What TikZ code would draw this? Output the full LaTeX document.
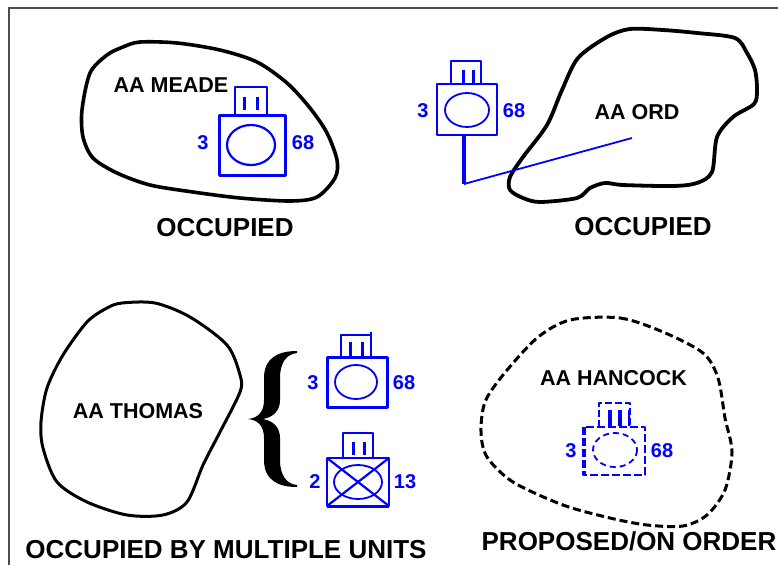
\documentclass[tikz,border=0pt]{standalone}
\usepackage{fontspec}
\setmainfont{Liberation Sans}
\begin{document}
\begin{tikzpicture}[x=1pt,y=-1pt,
  blob/.style={draw=black,line width=3.6pt,smooth cycle,tension=0.5,line join=round},
  unit/.style={draw=blue,line width=1.8pt,line join=round},
  unitthick/.style={draw=blue,line width=3pt,line join=round},
  bars/.style={draw=blue,line width=3pt},
  lab/.style={font=\fontsize{21.5}{21.5}\selectfont\bfseries,text=black,inner sep=0pt},
  captxt/.style={font=\fontsize{26}{26}\selectfont\bfseries,text=black,inner sep=0pt},
  num/.style={font=\fontsize{20}{20}\selectfont\bfseries,text=blue,inner sep=0pt}]
\useasboundingbox (0,0) rectangle (778,565);
\fill[white] (0,0) rectangle (778,565);
\draw[draw=black!70,line width=1.8pt] (9,565) -- (9,8) -- (778,8);
% Meade
\draw[blob] plot coordinates {(140,42)(177,43)(220,50)(257,62)(287,83)(310,108)(327,133)(337,160)(335,178)(317,197)(290,201)(240,198)(193,192)(150,185)(117,173)(93,158)(83,137)(82,110)(90,73)(107,55)(123,47)};
\node[lab] (meade) at (171,85) {AA MEADE};
\draw[unit] (235,115) -- (235,87) -- (267,87) -- (267,115);
\draw[unitthick] (219,115) rectangle (285,175);
\draw[bars] (244,97) -- (244,110) (257,97) -- (257,110);
\draw[unit,line width=2.2pt] (251,145) ellipse [x radius=24,y radius=20];
\node[num] (m3) at (203,143) {3};
\node[num] (m68) at (303,143) {68};
\node[captxt] (occ1) at (225,228) {OCCUPIED};
% Ord
\draw[blob,line width=3.8pt] plot coordinates {(510,177)(523,157)(547,125)(562,90)(578,58)(607,37)(630,29)(663,30)(697,33)(735,38)(747,53)(755,70)(757,90)(754,104)(733,117)(717,137)(712,172)(697,183)(673,186)(623,185)(605,183)(590,188)(577,198)(540,202)(523,198)(510,190)};
\node[lab] (ord) at (637,112) {AA ORD};
\draw[unit] (437,84) rectangle (497,135);
\draw[unit] (451,84) -- (451,61) -- (481,61) -- (481,84);
\draw[bars] (463,70) -- (463,84) (473,70) -- (473,84);
\draw[unit] (467,110) ellipse [x radius=22,y radius=17];
\node[num] (o3) at (423,111) {3};
\node[num] (o68) at (514,111) {68};
\coordinate (stemtop) at (464,135);
\coordinate (stembot) at (464,184);
\coordinate (ordpt) at (632,138);
\draw[draw=blue,line width=3.4pt] (stemtop) -- (stembot);
\draw[draw=blue,line width=1.8pt] (stembot) -- (ordpt);
\node[captxt] (occ2) at (643,227) {OCCUPIED};
% Thomas
\draw[blob,line width=3pt] plot coordinates {(122,303)(155,303)(190,317)(227,345)(240,375)(240,392)(220,432)(203,465)(187,502)(163,515)(127,515)(87,502)(57,482)(43,448)(41,422)(47,388)(63,355)(87,322)(107,308)};
\node[lab] (thomas) at (138,411) {AA THOMAS};
\fill[black] (297,351) .. controls (278,351) and (264,358) .. (264,378)
  -- (264,400) .. controls (264,412) and (258,418) .. (248,419)
  .. controls (258,420) and (264,426) .. (264,438)
  -- (264,460) .. controls (264,480) and (278,487) .. (297,487)
  -- (297,485) .. controls (287,484) and (280,476) .. (280,460)
  -- (280,438) .. controls (280,428) and (274,421) .. (263,419)
  .. controls (274,417) and (280,410) .. (280,400)
  -- (280,378) .. controls (280,362) and (287,354) .. (297,353) -- cycle;
\draw[unit] (341,357) -- (341,335) -- (371,335) (371,332) -- (371,357);
\draw[unitthick] (327,357) rectangle (387,407);
\draw[bars] (350,342) -- (350,357) (362,342) -- (362,357);
\draw[unit] (356,382) ellipse [x radius=21,y radius=17];
\node[num] (t3) at (313,383) {3};
\node[num] (t68) at (404,383) {68};
\draw[unit] (343,458) -- (343,433) -- (373,433) -- (373,458);
\draw[unit] (327,458) rectangle (389,506);
\draw[unit,line width=3pt] (327,506) -- (389,506);
\draw[bars] (353,442) -- (353,455) (364,442) -- (364,455);
\draw[unit] (358,482) ellipse [x radius=24,y radius=17];
\draw[unit,line width=2.2pt] (327,458) -- (389,506) (389,458) -- (327,506);
\node[num] (b2) at (315,482) {2};
\node[num] (b13) at (405,482) {13};
\node[captxt] (occ3) at (226,550) {OCCUPIED BY MULTIPLE UNITS};
% Hancock
\draw[blob,line width=3pt,dash pattern=on 8pt off 4pt] plot coordinates {(570,320)(620,318)(663,332)(703,353)(718,378)(725,418)(732,452)(725,490)(707,515)(683,526)(647,525)(610,518)(563,505)(513,482)(487,457)(481,432)(485,402)(503,375)(537,338)};
\node[lab] (hancock) at (613.5,378) {AA HANCOCK};
\draw[unit,dash pattern=on 8pt off 3pt] (583,427) rectangle (645,475);
\draw[unit,line width=3.6pt,dash pattern=on 8pt off 3pt] (584,427) -- (584,475);
\draw[unit,dash pattern=on 7pt off 3pt] (599,427) -- (599,403) -- (630,403) -- (630,427);
\draw[draw=blue,line width=4.5pt] (610,410) -- (610,426);
\draw[draw=blue,line width=3.4pt] (620,410) -- (620,426);
\draw[unit] (629,410) -- (629,426);
\draw[unit,dash pattern=on 6pt off 4pt] (615,450) ellipse [x radius=22,y radius=17];
\node[num] (h3) at (571,451) {3};
\node[num] (h68) at (662,451) {68};
\node[captxt] (prop) at (629,541) {PROPOSED/ON ORDER};
\end{tikzpicture}
\end{document}
